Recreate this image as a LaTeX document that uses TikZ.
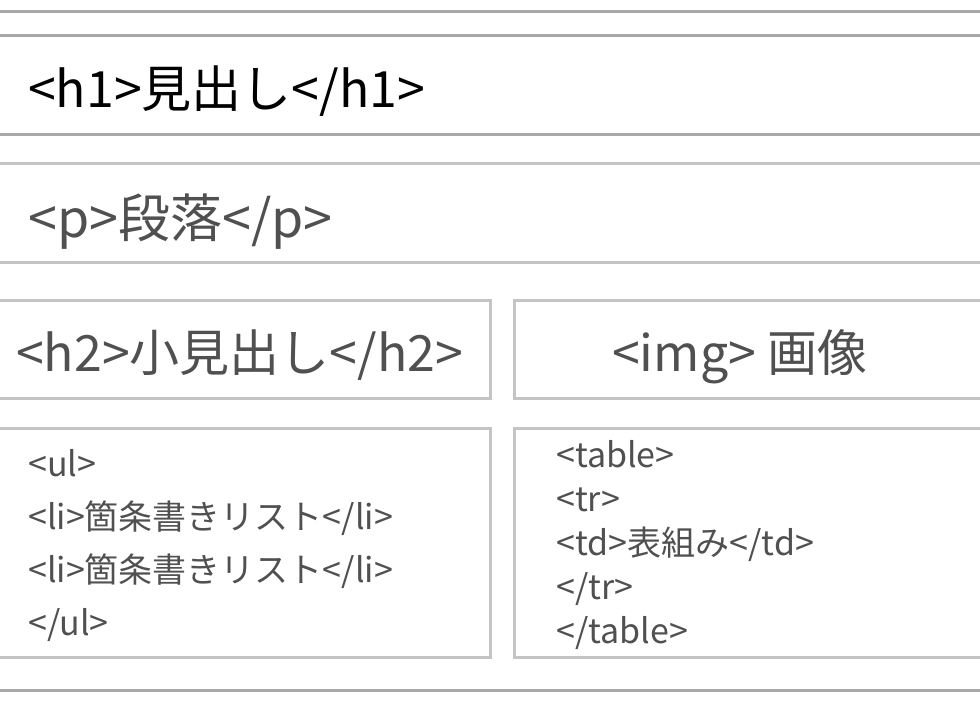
\documentclass[tikz,border=0pt]{standalone}
\usepackage{fontspec}
\usepackage{tikz}
\usetikzlibrary{positioning,calc}
\newfontfamily\jp{Noto Sans CJK JP}
\definecolor{rulegray}{HTML}{A8A8A8}
\definecolor{boxgray}{HTML}{C4C4C4}
\definecolor{textgray}{HTML}{505050}
\tikzset{
  box/.style={draw=boxgray, line width=3pt, minimum height=#1, inner sep=0pt},
  label/.style={font=\jp, text=textgray, inner sep=0pt, anchor=west},
}

\begin{document}
\begin{tikzpicture}[x=1pt,y=-1pt]
  \useasboundingbox (0,0) rectangle (980,703);
  % Outer rules
  \draw[rulegray, line width=3pt] (-10,12) -- (990,12);
  \draw[rulegray, line width=3pt] (-10,690) -- (990,690);
  % Boxes
  \node[box=99, draw=rulegray, minimum width=1000] (h1box) at (490,85.5) {};
  \node[box=99, minimum width=1000] (pbox) at (490,213.5) {};
  \node[box=97, minimum width=500] (h2box) at (240,349.5) {};
  \node[box=97, minimum width=476] (imgbox) at (752,349.5) {};
  \node[box=229, minimum width=500] (ulbox) at (240,542.5) {};
  \node[box=229, minimum width=476] (tablebox) at (752,542.5) {};
  % Texts
  \node[label, text=black, font=\jp\fontsize{50}{60}\selectfont] (h1) at (28,91) {<h1>見出し</h1>};
  \node[label, font=\jp\fontsize{52}{60}\selectfont] (p) at (28,222) {<p>段落</p>};
  \node[label, font=\jp\fontsize{50}{60}\selectfont] (h2) at (16,355) {<h2>小見出し</h2>};
  \node[label, font=\jp\fontsize{50}{60}\selectfont] (img) at (612,357) {<img> 画像};
  \node[label, align=left, font=\jp\fontsize{34}{53}\selectfont] (ul) at (28,545.5)
    {<ul>\\<li>箇条書きリスト</li>\\<li>箇条書きリスト</li>\\</ul>};
  \node[label, align=left, font=\jp\fontsize{34}{44}\selectfont] (table) at (556,545.5)
    {<table>\\<tr>\\<td>表組み</td>\\</tr>\\</table>};
\end{tikzpicture}
\end{document}
